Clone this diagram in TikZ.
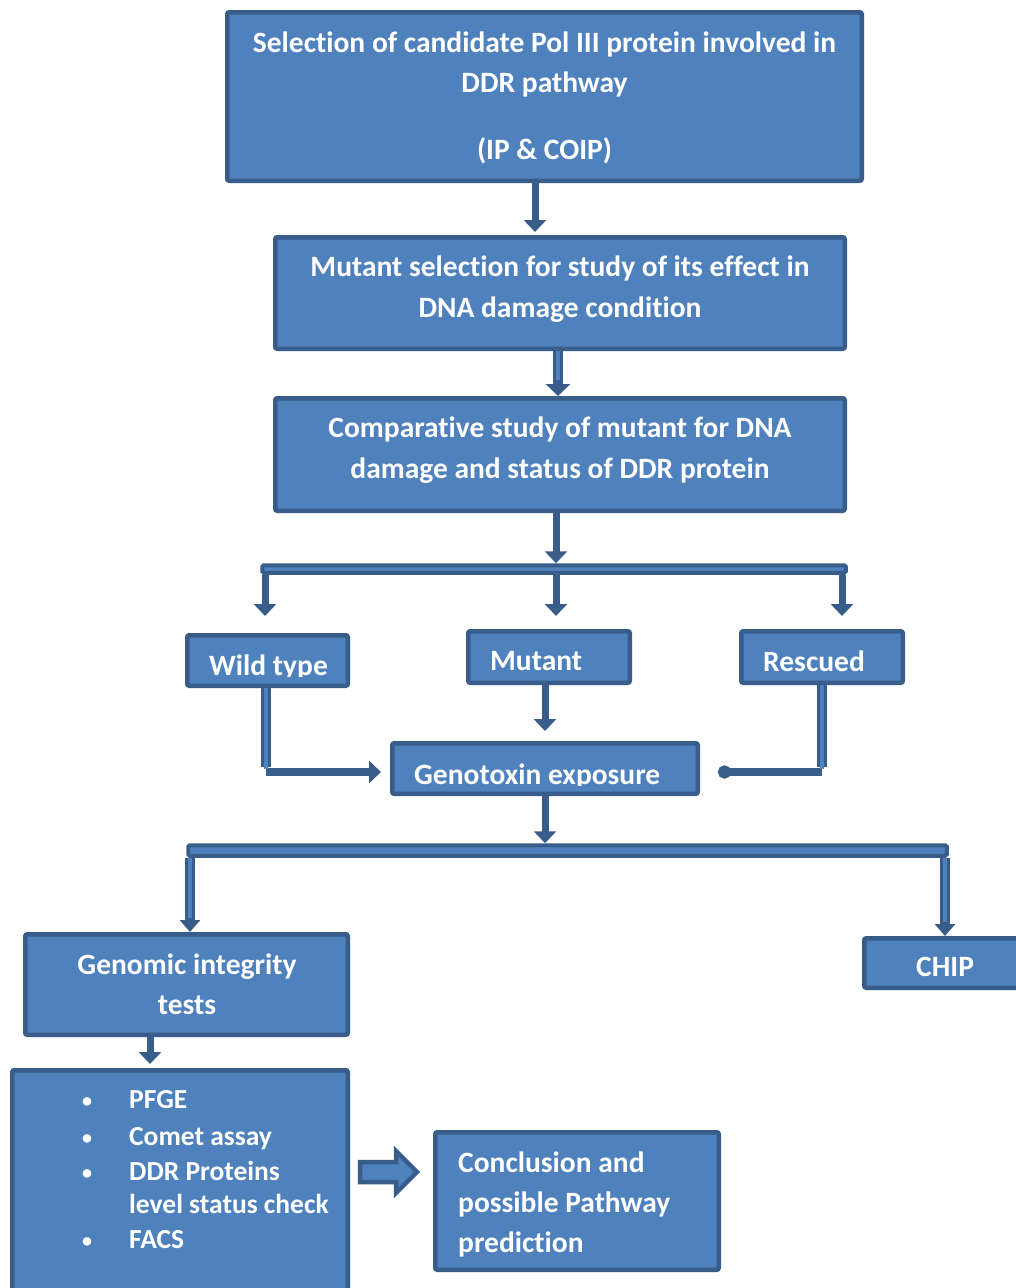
\documentclass[tikz,border=0pt]{standalone}
\usepackage{fontspec}
\setmainfont{Carlito}[Ligatures={NoCommon}]
\usetikzlibrary{arrows.meta}
\definecolor{fillb}{HTML}{4F81BD}
\definecolor{bdr}{HTML}{385D8A}
\tikzset{
  box/.style={draw=bdr, fill=fillb, line width=4.5pt, rounded corners=2pt, inner sep=0pt},
  barbox/.style={draw=bdr, fill=fillb, line width=4pt, rounded corners=1.5pt, inner sep=0pt},
  txt/.style={text=white, font=\fontsize{29.5}{40}\selectfont\bfseries, inner sep=0pt, anchor=base},
  txtl/.style={txt, anchor=base west},
  btxt/.style={text=white, font=\fontsize{27.5}{30}\selectfont\bfseries, inner sep=0pt, anchor=base west},
  bdot/.style={text=white, font=\fontsize{20}{24}\selectfont\bfseries, inner sep=0pt, anchor=base},
  arr/.style={draw=bdr, line width=7pt, -{Triangle[width=22pt,length=12pt]}},
  dblarr/.style={draw=bdr, line width=10pt, -{Triangle[width=24pt,length=12pt]}},
  dbl/.style={draw=bdr, line width=10pt},
  dblin/.style={draw=fillb, line width=3.5pt},
  hline/.style={draw=bdr, line width=8pt},
}
\newcommand\mybox[6][box]{\node[#1, minimum width={#5-#3-4.5}, minimum height={#6-#4-4.5}] (#2) at ({(#3+#5)/2},{(#4+#6)/2}) {};}
\begin{document}
\begin{tikzpicture}[x=1pt, y=-1pt]
\clip (0,0) rectangle (1016,1288);
\fill[white] (0,0) rectangle (1016,1288);

% column coordinates
\coordinate (xA) at (535,0);
\coordinate (xB) at (558,0);
\coordinate (xC) at (556,0);
\coordinate (xMu) at (545,0);
\coordinate (xWv) at (266,0);
\coordinate (xRv) at (822,0);
\coordinate (xL) at (190,0);
\coordinate (xCh) at (945,0);
\coordinate (xG) at (150,0);

% boxes
\mybox{top}{225}{10}{864}{183}
\mybox{box2}{273}{235}{847}{351}
\mybox{box3}{273}{396}{847}{513}
\mybox[barbox]{bar1}{260}{563}{848}{575}
\mybox{wt}{185}{633}{350}{688}
\mybox{mut}{466}{629}{632}{685}
\mybox{resc}{739}{629}{905}{685}
\mybox{geno}{390}{741}{700}{796}
\mybox[barbox]{bar2}{186}{843}{949}{858}
\mybox{gen}{23}{932}{350}{1037}
\mybox{chip}{862}{936}{1040}{990}
\mybox{bul}{10}{1068}{350}{1310}
\mybox{concl}{433}{1130}{721}{1272}

% texts
\node[txt] (t1a) at (544.5,52) {Selection of candidate Pol III protein involved in};
\node[txt] (t1b) at (544.5,92) {DDR pathway};
\node[txt] (t1c) at (544.5,159) {(IP \& COIP)};
\node[txt] (t2a) at (560,276) {Mutant selection for study of its effect in};
\node[txt] (t2b) at (560,317) {DNA damage condition};
\node[txt] (t3a) at (560,437) {Comparative study of mutant for DNA};
\node[txt] (t3b) at (560,478) {damage and status of DDR protein};
\begin{scope}
  \clip (185,633) rectangle (350,676);
  \node[txtl] (twt) at (209,675) {Wild type};
\end{scope}
\node[txtl] (tmut) at (490,670) {Mutant};
\node[txtl] (tresc) at (763,671) {Rescued};
\begin{scope}
  \clip (390,741) rectangle (700,785);
  \node[txtl] (tgeno) at (414,784) {Genotoxin exposure};
\end{scope}
\node[txt] (tgena) at (187,974) {Genomic integrity};
\node[txt] (tgenb) at (187,1014) {tests};
\node[txtl] (tchip) at (916,976) {CHIP};
\foreach \n/\y in {1/1107,2/1144,3/1179,5/1247}{
  \node[bdot] (bl\n) at (87,\y) {•};
}
\node[btxt] (b1) at (129,1108) {PFGE};
\node[btxt] (b2) at (129,1145) {Comet assay};
\node[btxt] (b3) at (129,1180) {DDR Proteins};
\node[btxt] (b4) at (129,1213) {level status check};
\node[btxt] (b5) at (129,1248) {FACS};
\node[txtl] (c1) at (458,1172) {Conclusion and};
\node[txtl] (c2) at (458,1212) {possible Pathway};
\node[txtl] (c3) at (458,1252) {prediction};

% connectors
\draw[arr, shorten >=3pt] (top.south -| xA) -- (box2.north -| xA);
\draw[dblarr] (box2.south -| xB) -- (box3.north -| xB);
\draw[dblin, shorten >=16pt] (box2.south -| xB) -- (box3.north -| xB);
\draw[arr] (box3.south -| xC) -- (bar1.north -| xC);
\coordinate (eW) at (265,616);
\coordinate (eM) at (556,616);
\coordinate (eR) at (842,616);
\draw[arr] (bar1.south -| eW) -- (eW);
\draw[arr] (bar1.south -| eM) -- (eM);
\draw[arr] (bar1.south -| eR) -- (eR);
\draw[arr, shorten >=10pt] (mut.south -| xMu) -- (geno.north -| xMu);
% wild type to genotoxin
\coordinate (cW) at (266,772);
\coordinate (eWG) at (381,772);
\draw[hline, -{Triangle[width=22pt,length=12pt]}] (cW) -- (eWG);
\draw[dbl] (wt.south -| xWv) -- ([yshift=5pt]cW);
\draw[dblin] (wt.south -| xWv) -- ([yshift=3pt]cW);
% rescued to genotoxin
\coordinate (cR) at (822,772);
\coordinate (eRG) at (718,772);
\draw[hline, -{Circle[length=13pt]}] (cR) -- (eRG);
\draw[dbl] (resc.south -| xRv) -- ([yshift=5pt]cR);
\draw[dblin] (resc.south -| xRv) -- ([yshift=3pt]cR);
% genotoxin to bar2
\draw[arr] (geno.south -| xMu) -- (bar2.north -| xMu);
\draw[dblarr, -{Triangle[width=20pt,length=12pt]}] (bar2.south -| xL) -- (gen.north -| xL);
\draw[dblin, shorten >=14pt] (bar2.south -| xL) -- (gen.north -| xL);
\draw[dblarr, -{Triangle[width=20pt,length=12pt]}] (bar2.south -| xCh) -- (chip.north -| xCh);
\draw[dblin, shorten >=14pt] (bar2.south -| xCh) -- (chip.north -| xCh);
\draw[arr, shorten >=4pt] (gen.south -| xG) -- (bul.north -| xG);
% block arrow
\draw[draw=bdr, fill=fillb, line width=4.5pt, line join=miter]
  (360,1162) -- (396,1162) -- (396,1151) -- (417,1172) -- (396,1193) -- (396,1182) -- (360,1182) -- cycle;
\end{tikzpicture}
\end{document}
